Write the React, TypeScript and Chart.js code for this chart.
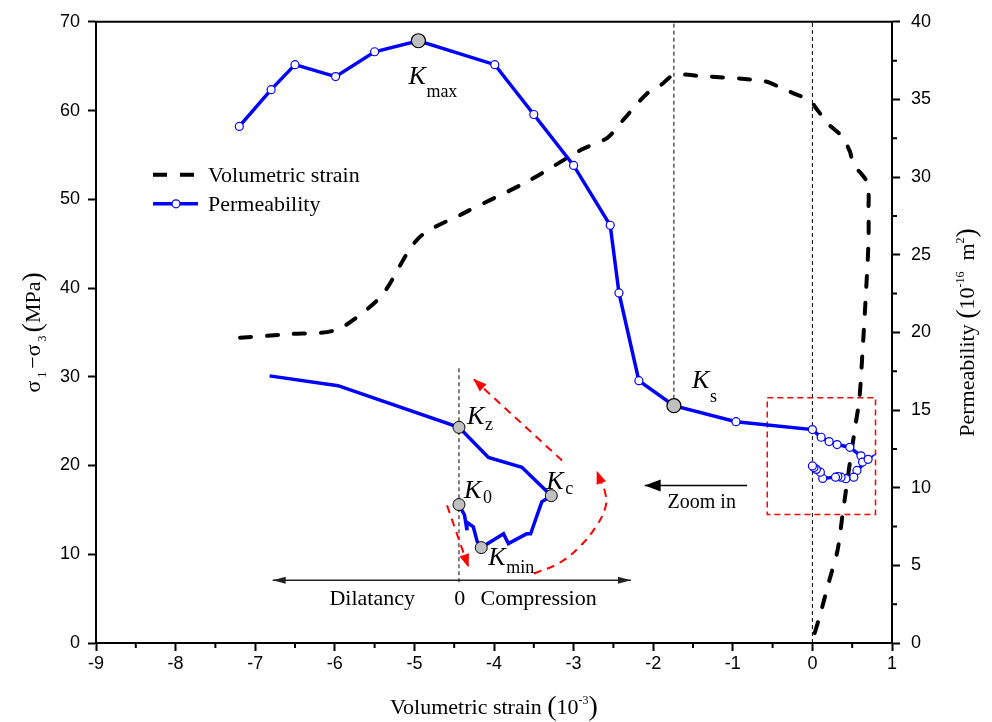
import { useEffect, useRef } from "react";
import { Chart, registerables } from "chart.js";

Chart.register(...registerables);

// ---------- axes ----------
const X_MIN = -9;
const X_MAX = 1;
const STRESS_MAX = 70;
const PERM_MAX = 40;
const xTickStep = 1;
const stressTickStep = 10;
const permTickStep = 5;

// ---------- volumetric strain (stress vs strain, left axis) ----------
const strainX = [-7.19, -6.59, -6.01, -5.68, -5.39, -4.95, -4.41, -3.56, -2.9, -2.58, -2.39, -2.08, -1.9, -1.74, -1.42, -0.6, -0.38, -0.23, -0.04, 0.06, 0.21, 0.37, 0.47, 0.52, 0.67, 0.705, 0.705, 0.705, 0.667, 0.63, 0.59, 0.54, 0.466, 0.378, 0.315, 0.214, 0.088, 0.0];
const strainY = [34.4, 34.8, 35.2, 37.0, 39.4, 45.6, 48.3, 52.1, 55.6, 56.9, 58.8, 61.9, 62.9, 64.0, 63.9, 63.3, 62.5, 61.9, 61.2, 60.1, 58.4, 57.1, 55.4, 53.9, 52.2, 50.7, 49.1, 45.3, 38.5, 32.9, 27.5, 24.5, 20.0, 14.4, 10.4, 7.1, 2.9, 0.3];

// ---------- permeability (right axis) ----------
const permX = [-7.2, -6.8, -6.5, -5.99, -5.5, -4.95, -3.99, -3.5, -3.0, -2.54, -2.43, -2.18, -1.74, -0.96, 0.0, 0.11, 0.21, 0.31, 0.47, 0.61, 0.63, 0.7, 0.56, 0.52, 0.42, 0.36, 0.32, 0.29, 0.13, 0.1, 0.05, 0.02, 0.0];
const permY = [33.26, 35.63, 37.24, 36.47, 38.07, 38.78, 37.24, 34.03, 30.75, 26.9, 22.54, 16.89, 15.28, 14.25, 13.74, 13.25, 12.97, 12.78, 12.6, 12.05, 11.65, 11.83, 11.11, 10.68, 10.58, 10.68, 10.72, 10.68, 10.6, 11.0, 11.18, 11.3, 11.4];
const permKeyIdx = [5, 12]; // K_max, K_s

// ---------- schematic inset (left axis units) ----------
const insetX = [-6.82, -5.96, -4.44, -4.07, -3.65, -3.28, -3.4, -3.54, -3.59, -3.82, -3.88, -4.16, -4.21, -4.26, -4.34, -4.34, -4.37, -4.44];
const insetY = [30.1, 29.0, 24.3, 20.9, 19.8, 16.6, 15.9, 12.3, 12.3, 11.2, 12.3, 10.75, 11.4, 13.1, 13.6, 12.7, 14.4, 15.6];
const insetKeyIdx = [2, 5, 11, 17]; // K_z, K_c, K_min, K_0

// red dashed arrows (left axis units), last point = arrow tip
const arrowUpX = [-3.145, -4.257];
const arrowUpY = [20.56, 29.74];
const arrowCurveX = [-3.5, -3.19, -2.93, -2.72, -2.6, -2.6, -2.66, -2.71];
const arrowCurveY = [7.83, 8.96, 10.8, 13.1, 15.3, 16.8, 18.3, 19.4];
const arrowDownX = [-4.59, -4.32];
const arrowDownY = [15.5, 8.54];

// inset strain axis (double arrow) and its zero line
const insetAxisX = [-6.78, -2.28];
const insetAxisY = [7.08, 7.08];
const insetZeroX = [-4.44, -4.44];
const insetZeroY = [6.85, 31.2];

// zoom box (permeability units) and "Zoom in" arrow (left axis units)
const zoomBoxX = [-0.567, 0.793];
const zoomBoxY = [8.28, 15.79];
const zoomArrowX = [-0.82, -2.107];
const zoomArrowY = [17.75, 17.75];

// guide lines
const ksGuideX = [-1.74, -1.74];
const ksGuideY = [15.28, PERM_MAX];
const zeroGuideX = [0, 0];
const zeroGuideY = [0, STRESS_MAX];

// text labels
const kLabels = [
  { sub: "max", axis: "y1", x: -4.95, y: 38.78, dx: -10, dy: 43, sdx: 18, sdy: 13 },
  { sub: "s", axis: "y1", x: -1.74, y: 15.28, dx: 18, dy: -18, sdx: 18, sdy: 14 },
  { sub: "z", axis: "y", x: -4.44, y: 24.3, dx: 8, dy: -3, sdx: 18, sdy: 6 },
  { sub: "0", axis: "y", x: -4.44, y: 15.6, dx: 5, dy: -7, sdx: 19, sdy: 5 },
  { sub: "c", axis: "y", x: -3.28, y: 16.6, dx: -5, dy: -7, sdx: 19, sdy: 5 },
  { sub: "min", axis: "y", x: -4.16, y: 10.75, dx: 7, dy: 17, sdx: 18, sdy: 8 },
];
const insetTexts = [
  { text: "Dilatancy", x: -5.53, y: 4.27 },
  { text: "0", x: -4.43, y: 4.27 },
  { text: "Compression", x: -3.44, y: 4.27 },
  { text: "Zoom in", x: -1.39, y: 15.2 },
];

const SERIF = "'Liberation Serif', 'Times New Roman', serif";
const SANS = "'Liberation Sans', Arial, sans-serif";
const BLUE = "#0000ff";
const RED = "#ff0000";

const pts = (xs: number[], ys: number[]) => xs.map((x, i) => ({ x, y: ys[i] }));

type Seg = { t: string; size: number; dy?: number; italic?: boolean };

function segFont(s: Seg) {
  return `${s.italic ? "italic " : ""}${s.size}px ${SERIF}`;
}
function richWidth(ctx: CanvasRenderingContext2D, segs: Seg[]) {
  let w = 0;
  for (const s of segs) {
    ctx.font = segFont(s);
    w += ctx.measureText(s.t).width;
  }
  return w;
}
function drawRich(ctx: CanvasRenderingContext2D, segs: Seg[], x: number, y: number) {
  let cx = x;
  ctx.textAlign = "left";
  ctx.textBaseline = "alphabetic";
  for (const s of segs) {
    ctx.font = segFont(s);
    ctx.fillText(s.t, cx, y + (s.dy || 0));
    cx += ctx.measureText(s.t).width;
  }
}

function arrowHead(ctx: CanvasRenderingContext2D, fx: number, fy: number, tx: number, ty: number, len: number, half: number, color: string) {
  const a = Math.atan2(ty - fy, tx - fx);
  const bx = tx - len * Math.cos(a);
  const by = ty - len * Math.sin(a);
  ctx.save();
  ctx.fillStyle = color;
  ctx.beginPath();
  ctx.moveTo(tx, ty);
  ctx.lineTo(bx + half * Math.sin(a), by - half * Math.cos(a));
  ctx.lineTo(bx - half * Math.sin(a), by + half * Math.cos(a));
  ctx.closePath();
  ctx.fill();
  ctx.restore();
}

const decorPlugin = {
  id: "decor",
  afterDraw(chart: any) {
    const ctx: CanvasRenderingContext2D = chart.ctx;
    const { x, y, y1 } = chart.scales;
    const area = chart.chartArea;
    const X = (v: number) => x.getPixelForValue(v);
    const Y = (v: number) => y.getPixelForValue(v);
    const Y1 = (v: number) => y1.getPixelForValue(v);

    ctx.save();
    // top frame
    ctx.strokeStyle = "#000";
    ctx.lineWidth = 2;
    ctx.beginPath();
    ctx.moveTo(area.left - 1, area.top);
    ctx.lineTo(area.right + 1, area.top);
    ctx.stroke();

    // minor ticks
    ctx.lineWidth = 2;
    ctx.beginPath();
    for (let v = X_MIN + xTickStep / 2; v < X_MAX; v += xTickStep) {
      const p = X(v);
      ctx.moveTo(p, area.bottom);
      ctx.lineTo(p, area.bottom + 5);
    }
    for (let v = permTickStep / 2; v < PERM_MAX; v += permTickStep) {
      const p = Y1(v);
      ctx.moveTo(area.right, p);
      ctx.lineTo(area.right + 5, p);
    }
    ctx.stroke();

    // red arrowheads
    const nC = arrowCurveX.length;
    arrowHead(ctx, X(arrowUpX[0]), Y(arrowUpY[0]), X(arrowUpX[1]), Y(arrowUpY[1]), 13, 5, RED);
    arrowHead(ctx, X(arrowDownX[0]), Y(arrowDownY[0]), X(arrowDownX[1]), Y(arrowDownY[1]), 13, 5, RED);
    arrowHead(ctx, X(arrowCurveX[nC - 3]), Y(arrowCurveY[nC - 3]), X(arrowCurveX[nC - 1]), Y(arrowCurveY[nC - 1]), 13, 5, RED);

    // inset axis arrowheads
    arrowHead(ctx, X(insetAxisX[1]), Y(insetAxisY[1]), X(insetAxisX[0]), Y(insetAxisY[0]), 13, 3.5, "#222");
    arrowHead(ctx, X(insetAxisX[0]), Y(insetAxisY[0]), X(insetAxisX[1]), Y(insetAxisY[1]), 13, 3.5, "#222");
    // zoom in arrowhead
    arrowHead(ctx, X(zoomArrowX[0]), Y(zoomArrowY[0]), X(zoomArrowX[1]), Y(zoomArrowY[1]), 16, 6, "#000");

    ctx.fillStyle = "#000";
    // K labels
    for (const k of kLabels) {
      const px = X(k.x) + k.dx;
      const py = (k.axis === "y1" ? Y1(k.y) : Y(k.y)) + k.dy;
      ctx.font = `italic 26px ${SERIF}`;
      ctx.textAlign = "left";
      ctx.textBaseline = "alphabetic";
      ctx.fillText("K", px, py);
      ctx.font = `18px ${SERIF}`;
      ctx.fillText(k.sub, px + k.sdx, py + k.sdy);
    }

    // inset texts
    ctx.textAlign = "center";
    ctx.textBaseline = "alphabetic";
    for (const t of insetTexts) {
      ctx.font = `${t.text === "Zoom in" ? 20 : 22}px ${SERIF}`;
      ctx.fillText(t.text, X(t.x), Y(t.y));
    }

    // legend
    const lx = area.left + 57;
    const ly1 = area.top + 153;
    const ly2 = area.top + 182;
    ctx.strokeStyle = "#000";
    ctx.lineWidth = 4;
    ctx.lineCap = "butt";
    ctx.beginPath();
    ctx.moveTo(lx, ly1);
    ctx.lineTo(lx + 14, ly1);
    ctx.moveTo(lx + 27, ly1);
    ctx.lineTo(lx + 41, ly1);
    ctx.stroke();
    ctx.strokeStyle = BLUE;
    ctx.lineWidth = 3.5;
    ctx.beginPath();
    ctx.moveTo(lx, ly2);
    ctx.lineTo(lx + 45, ly2);
    ctx.stroke();
    ctx.beginPath();
    ctx.arc(lx + 23, ly2, 4, 0, Math.PI * 2);
    ctx.fillStyle = "#fff";
    ctx.fill();
    ctx.lineWidth = 1.2;
    ctx.stroke();
    ctx.fillStyle = "#000";
    ctx.font = `22px ${SERIF}`;
    ctx.textAlign = "left";
    ctx.textBaseline = "middle";
    ctx.fillText("Volumetric strain", lx + 55, ly1 + 1);
    ctx.fillText("Permeability", lx + 55, ly2 + 1);

    // x title
    const xt: Seg[] = [
      { t: "Volumetric strain ", size: 22 },
      { t: "(", size: 28, dy: 1 },
      { t: "10", size: 22 },
      { t: "-3", size: 12, dy: -10 },
      { t: ")", size: 28, dy: 1 },
    ];
    const xw = richWidth(ctx, xt);
    drawRich(ctx, xt, (area.left + area.right) / 2 - xw / 2, 714);

    // left title
    const yt: Seg[] = [
      { t: "σ", size: 22 },
      { t: " 1 ", size: 12, dy: 6 },
      { t: "−σ", size: 22 },
      { t: " 3 ", size: 12, dy: 6 },
      { t: "(", size: 28, dy: 1 },
      { t: "MPa", size: 22 },
      { t: ")", size: 28, dy: 1 },
    ];
    const yw = richWidth(ctx, yt);
    ctx.save();
    ctx.translate(40, (area.top + area.bottom) / 2);
    ctx.rotate(-Math.PI / 2);
    drawRich(ctx, yt, -yw / 2, 0);
    ctx.restore();

    // right title
    const rt: Seg[] = [
      { t: "Permeability ", size: 22 },
      { t: "(", size: 28, dy: 1 },
      { t: "10", size: 22 },
      { t: "-16", size: 12, dy: -10 },
      { t: "  m", size: 22 },
      { t: "2", size: 12, dy: -10 },
      { t: ")", size: 28, dy: 1 },
    ];
    const rw = richWidth(ctx, rt);
    ctx.save();
    ctx.translate(974, (area.top + area.bottom) / 2);
    ctx.rotate(-Math.PI / 2);
    drawRich(ctx, rt, -rw / 2, 0);
    ctx.restore();

    ctx.restore();
  },
};

export default function App() {
  const ref = useRef<HTMLCanvasElement | null>(null);

  useEffect(() => {
    if (!ref.current) return;
    const keyR = (keys: number[], big: number, small: number) => (c: any) => (keys.includes(c.dataIndex) ? big : small);
    const keyC = (keys: number[], a: string, b: string) => (c: any) => (keys.includes(c.dataIndex) ? a : b);

    const tickFont = { family: SANS, size: 18 };
    const chart = new Chart(ref.current, {
      type: "line",
      data: {
        datasets: [
          {
            label: "Permeability",
            data: pts(permX, permY),
            yAxisID: "y1",
            borderColor: BLUE,
            borderWidth: 3.5,
            pointRadius: keyR(permKeyIdx, 7, 4),
            pointBackgroundColor: keyC(permKeyIdx, "#c0c0c0", "#ffffff"),
            pointBorderColor: keyC(permKeyIdx, "#000000", BLUE),
            pointBorderWidth: 1.2,
            tension: 0,
          },
          {
            label: "inset",
            data: pts(insetX, insetY),
            yAxisID: "y",
            borderColor: BLUE,
            borderWidth: 3.5,
            pointRadius: keyR(insetKeyIdx, 6, 0),
            pointBackgroundColor: "#c0c0c0",
            pointBorderColor: "#000",
            pointBorderWidth: 1,
            tension: 0,
          },
          {
            label: "arrowUp",
            data: pts(arrowUpX, arrowUpY),
            yAxisID: "y",
            borderColor: RED,
            borderWidth: 2,
            borderDash: [8, 6],
            pointRadius: 0,
          },
          {
            label: "arrowCurve",
            data: pts(arrowCurveX, arrowCurveY),
            yAxisID: "y",
            borderColor: RED,
            borderWidth: 2,
            borderDash: [8, 6],
            pointRadius: 0,
            tension: 0.4,
          },
          {
            label: "arrowDown",
            data: pts(arrowDownX, arrowDownY),
            yAxisID: "y",
            borderColor: RED,
            borderWidth: 2,
            borderDash: [8, 6],
            pointRadius: 0,
          },
          {
            label: "zoomBox",
            data: pts(
              [zoomBoxX[0], zoomBoxX[1], zoomBoxX[1], zoomBoxX[0], zoomBoxX[0]],
              [zoomBoxY[1], zoomBoxY[1], zoomBoxY[0], zoomBoxY[0], zoomBoxY[1]]
            ),
            yAxisID: "y1",
            borderColor: RED,
            borderWidth: 1.5,
            borderDash: [6, 4],
            pointRadius: 0,
          },
          {
            label: "insetAxis",
            data: pts(insetAxisX, insetAxisY),
            yAxisID: "y",
            borderColor: "#222",
            borderWidth: 1.5,
            pointRadius: 0,
          },
          {
            label: "zoomArrow",
            data: pts(zoomArrowX, zoomArrowY),
            yAxisID: "y",
            borderColor: "#000",
            borderWidth: 1.5,
            pointRadius: 0,
          },
          {
            label: "Volumetric strain",
            data: pts(strainX, strainY),
            yAxisID: "y",
            borderColor: "#000",
            borderWidth: 4,
            borderDash: [11, 16],
            borderCapStyle: "round",
            pointRadius: 0,
            tension: 0.3,
          },
          {
            label: "insetZero",
            data: pts(insetZeroX, insetZeroY),
            yAxisID: "y",
            borderColor: "#000",
            borderWidth: 1,
            borderDash: [4, 3],
            pointRadius: 0,
          },
          {
            label: "ksGuide",
            data: pts(ksGuideX, ksGuideY),
            yAxisID: "y1",
            borderColor: "#000",
            borderWidth: 1,
            borderDash: [4, 3],
            pointRadius: 0,
          },
          {
            label: "zeroGuide",
            data: pts(zeroGuideX, zeroGuideY),
            yAxisID: "y",
            borderColor: "#000",
            borderWidth: 1,
            borderDash: [4, 3],
            pointRadius: 0,
          },
        ] as any,
      },
      options: {
        responsive: false,
        devicePixelRatio: 1,
        animation: false,
        layout: { padding: { top: 20, left: 0, right: 0, bottom: 0 } },
        plugins: { legend: { display: false }, tooltip: { enabled: false } },
        scales: {
          x: {
            type: "linear",
            min: X_MIN,
            max: X_MAX,
            afterFit: (s: any) => {
              s.height = 79;
            },
            ticks: { stepSize: xTickStep, font: tickFont, color: "#000", padding: 2, autoSkip: false, maxRotation: 0, callback: (v: any) => String(v) },
            grid: { drawOnChartArea: false, drawTicks: true, tickLength: 8, tickWidth: 2, tickColor: "#000" },
            border: { display: true, color: "#000", width: 2 },
          },
          y: {
            type: "linear",
            position: "left",
            min: 0,
            max: STRESS_MAX,
            afterFit: (s: any) => {
              s.width = 96;
            },
            ticks: { stepSize: stressTickStep, font: tickFont, color: "#000", padding: 8, callback: (v: any) => String(v) },
            grid: { drawOnChartArea: false, drawTicks: true, tickLength: 8, tickWidth: 2, tickColor: "#000" },
            border: { display: true, color: "#000", width: 2 },
          },
          y1: {
            type: "linear",
            position: "right",
            min: 0,
            max: PERM_MAX,
            afterFit: (s: any) => {
              s.width = 100;
            },
            ticks: { stepSize: permTickStep, font: tickFont, color: "#000", padding: 11, callback: (v: any) => String(v) },
            grid: { drawOnChartArea: false, drawTicks: true, tickLength: 8, tickWidth: 2, tickColor: "#000" },
            border: { display: true, color: "#000", width: 2 },
          },
        },
      } as any,
      plugins: [decorPlugin],
    });
    return () => chart.destroy();
  }, []);

  return (
    <div style={{ position: "fixed", left: 0, top: 0, width: 992, height: 722, background: "#fff" }}>
      <canvas ref={ref} width={992} height={722} style={{ display: "block", width: 992, height: 722 }} />
    </div>
  );
}
